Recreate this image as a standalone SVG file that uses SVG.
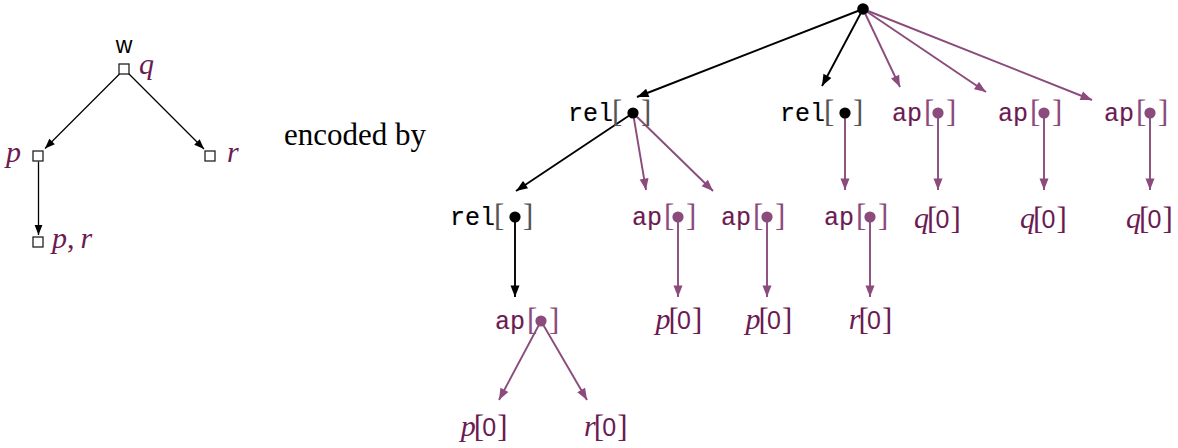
<svg xmlns="http://www.w3.org/2000/svg" width="1178" height="448" viewBox="0 0 1178 448">
<defs>
<style>
.mono{font-family:"Liberation Mono",monospace;font-size:25px;stroke-width:0.15}
.ser{font-family:"Liberation Serif",serif;font-size:28px}
.br{font-size:31px}
.it{font-style:italic;font-size:30px}
.sans{font-family:"Liberation Sans",sans-serif;font-size:25px}
.dk{fill:#6c1a52}
.mono.dk{stroke:#6c1a52}
.mono.blk{stroke:#000}
.lp{fill:#8b4b7c}
.gr{fill:#555}
.blk{fill:#000}
.eb{stroke:#000;stroke-width:1.9;fill:none;marker-end:url(#ab)}
.ep{stroke:#8b4b7c;stroke-width:1.9;fill:none;marker-end:url(#apm)}
.el{stroke:#000;stroke-width:1.3;fill:none;marker-end:url(#al)}
.box{fill:#fff;stroke:#222;stroke-width:1.3}
</style>
<marker id="ab" viewBox="-12 -5 13 10" markerWidth="13" markerHeight="10" refX="0" refY="0" orient="auto" markerUnits="userSpaceOnUse"><path d="M0,0 L-11.5,-4.5 L-11.5,4.5 z" fill="#000"/></marker>
<marker id="apm" viewBox="-12 -5 13 10" markerWidth="13" markerHeight="10" refX="0" refY="0" orient="auto" markerUnits="userSpaceOnUse"><path d="M0,0 L-11.5,-4.5 L-11.5,4.5 z" fill="#8b4b7c"/></marker>
<marker id="al" viewBox="-12 -5 13 10" markerWidth="13" markerHeight="10" refX="0" refY="0" orient="auto" markerUnits="userSpaceOnUse"><path d="M0,0 L-10,-3.9 L-10,3.9 z" fill="#000"/></marker>
</defs>
<rect width="1178" height="448" fill="#fff"/>

<g id="connectors">
<line class="el" x1="120" y1="73.5" x2="45" y2="148.5"/>
<line class="el" x1="128.5" y1="73.5" x2="204" y2="149"/>
<line class="el" x1="38.5" y1="161.5" x2="38.5" y2="235"/>

<line class="eb" x1="863" y1="9" x2="637" y2="97"/>
<line class="eb" x1="863" y1="9" x2="822" y2="86"/>
<line class="ep" x1="863" y1="9" x2="900" y2="87"/>
<line class="ep" x1="863" y1="9" x2="986" y2="92"/>
<line class="ep" x1="863" y1="9" x2="1092" y2="100"/>

<line class="eb" x1="633" y1="113" x2="516" y2="191"/>
<line class="ep" x1="633" y1="113" x2="646" y2="190"/>
<line class="ep" x1="633" y1="113" x2="713" y2="191"/>
<line class="ep" x1="845" y1="113" x2="845" y2="190"/>
<line class="ep" x1="938" y1="113" x2="938" y2="190"/>
<line class="ep" x1="1044" y1="113" x2="1044" y2="190"/>
<line class="ep" x1="1150" y1="113" x2="1150" y2="190"/>

<line class="eb" x1="515" y1="217" x2="515" y2="297"/>
<line class="ep" x1="678" y1="217" x2="678" y2="297"/>
<line class="ep" x1="767" y1="217" x2="767" y2="297"/>
<line class="ep" x1="870" y1="217" x2="870" y2="297"/>

<line class="ep" x1="541" y1="321" x2="499" y2="400"/>
<line class="ep" x1="541" y1="321" x2="587" y2="400"/>
</g>

<g id="world-w">
<text class="sans" x="124" y="53" text-anchor="middle" style="font-size:23px">w</text>
<rect class="box" x="119" y="64" width="10" height="10"/>
<text class="ser it dk" x="139" y="74">q</text>
</g>
<g id="world-p">
<rect class="box" x="33" y="151" width="10" height="10"/>
<text class="ser it dk" x="6" y="162">p</text>
</g>
<g id="world-r">
<rect class="box" x="205" y="151" width="10" height="10"/>
<text class="ser it dk" x="227" y="162">r</text>
</g>
<g id="world-pr">
<rect class="box" x="33" y="237" width="10" height="10"/>
<text class="ser dk" x="52" y="248" style="font-size:30px"><tspan class="it">p</tspan>,<tspan class="it" dx="6">r</tspan></text>
</g>

<g id="caption">
<text class="ser" x="284" y="145" style="font-size:31px">encoded by</text>
</g>

<g id="root"><circle cx="863" cy="9" r="5.8" class="blk"/></g>

<g id="rel1">
<text class="mono blk" x="568" y="121">rel</text>
<text class="ser br gr" x="612" y="122">[</text><text class="ser br gr" x="641" y="122">]</text>
<circle cx="633" cy="113" r="5.6" class="blk"/>
</g>
<g id="rel2">
<text class="mono blk" x="780" y="121">rel</text>
<text class="ser br gr" x="824" y="122">[</text><text class="ser br gr" x="853" y="122">]</text>
<circle cx="845" cy="113" r="5.6" class="blk"/>
</g>
<g id="ap1">
<text class="mono dk" x="892" y="121">ap</text>
<text class="ser br lp" x="924" y="122">[</text><text class="ser br lp" x="946" y="122">]</text>
<circle cx="938" cy="113" r="5.6" class="lp"/>
</g>
<g id="ap2">
<text class="mono dk" x="998" y="121">ap</text>
<text class="ser br lp" x="1030" y="122">[</text><text class="ser br lp" x="1052" y="122">]</text>
<circle cx="1044" cy="113" r="5.6" class="lp"/>
</g>
<g id="ap3">
<text class="mono dk" x="1104" y="121">ap</text>
<text class="ser br lp" x="1136" y="122">[</text><text class="ser br lp" x="1158" y="122">]</text>
<circle cx="1150" cy="113" r="5.6" class="lp"/>
</g>

<g id="rel3">
<text class="mono blk" x="450" y="225">rel</text>
<text class="ser br gr" x="494" y="226">[</text><text class="ser br gr" x="523" y="226">]</text>
<circle cx="515" cy="217" r="5.6" class="blk"/>
</g>
<g id="ap4">
<text class="mono dk" x="632" y="225">ap</text>
<text class="ser br lp" x="664" y="226">[</text><text class="ser br lp" x="686" y="226">]</text>
<circle cx="678" cy="217" r="5.6" class="lp"/>
</g>
<g id="ap5">
<text class="mono dk" x="721" y="225">ap</text>
<text class="ser br lp" x="753" y="226">[</text><text class="ser br lp" x="775" y="226">]</text>
<circle cx="767" cy="217" r="5.6" class="lp"/>
</g>
<g id="ap6">
<text class="mono dk" x="824" y="225">ap</text>
<text class="ser br lp" x="856" y="226">[</text><text class="ser br lp" x="878" y="226">]</text>
<circle cx="870" cy="217" r="5.6" class="lp"/>
</g>

<g id="q0a">
<text class="ser it dk" x="929" y="228" text-anchor="end">q</text>
<text class="ser br dk" x="927" y="229">[</text><text class="sans dk" x="935.5" y="228">0</text><text class="ser br dk" x="950.5" y="229">]</text>
</g>
<g id="q0b">
<text class="ser it dk" x="1035" y="228" text-anchor="end">q</text>
<text class="ser br dk" x="1033" y="229">[</text><text class="sans dk" x="1041.5" y="228">0</text><text class="ser br dk" x="1056.5" y="229">]</text>
</g>
<g id="q0c">
<text class="ser it dk" x="1141" y="228" text-anchor="end">q</text>
<text class="ser br dk" x="1139" y="229">[</text><text class="sans dk" x="1147.5" y="228">0</text><text class="ser br dk" x="1162.5" y="229">]</text>
</g>

<g id="ap7">
<text class="mono dk" x="495" y="329">ap</text>
<text class="ser br lp" x="527" y="330">[</text><text class="ser br lp" x="549" y="330">]</text>
<circle cx="541" cy="321" r="5.6" class="lp"/>
</g>

<g id="p0a">
<text class="ser it dk" x="670.5" y="329" text-anchor="end">p</text>
<text class="ser br dk" x="668.5" y="330">[</text><text class="sans dk" x="677" y="329">0</text><text class="ser br dk" x="692" y="330">]</text>
</g>
<g id="p0b">
<text class="ser it dk" x="760.5" y="329" text-anchor="end">p</text>
<text class="ser br dk" x="758.5" y="330">[</text><text class="sans dk" x="767" y="329">0</text><text class="ser br dk" x="782" y="330">]</text>
</g>
<g id="r0a">
<text class="ser it dk" x="860.5" y="329" text-anchor="end">r</text>
<text class="ser br dk" x="858.5" y="330">[</text><text class="sans dk" x="867" y="329">0</text><text class="ser br dk" x="882" y="330">]</text>
</g>

<g id="p0c">
<text class="ser it dk" x="475.7" y="436" text-anchor="end">p</text>
<text class="ser br dk" x="473.7" y="437">[</text><text class="sans dk" x="482.2" y="436">0</text><text class="ser br dk" x="497.2" y="437">]</text>
</g>
<g id="r0b">
<text class="ser it dk" x="595.7" y="436" text-anchor="end">r</text>
<text class="ser br dk" x="593.7" y="437">[</text><text class="sans dk" x="602.2" y="436">0</text><text class="ser br dk" x="617.2" y="437">]</text>
</g>
</svg>
